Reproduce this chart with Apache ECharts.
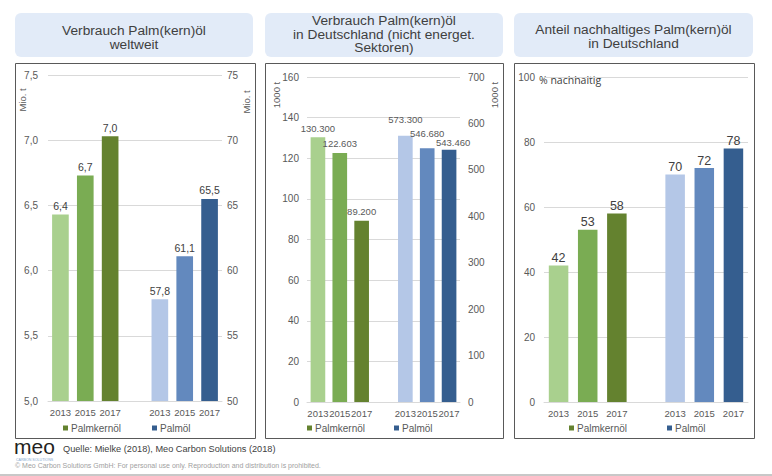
<!DOCTYPE html>
<html>
<head>
<meta charset="utf-8">
<script src="https://cdn.jsdelivr.net/npm/echarts@6/dist/echarts.min.js"></script>
<style>
html,body{margin:0;padding:0;background:#fff;}
#c{width:772px;height:476px;}
</style>
</head>
<body>
<div id="c"></div>
<script>
// ---- data ----
const categories = ['2013', '2015', '2017', '', '2013', '2015', '2017'];
const seriesNames = ['Palmkernöl', 'Palmöl'];
const worldKernel = [6.43, 6.73, 7.03];      // Mio. t
const worldPalm = [57.8, 61.1, 65.5];        // Mio. t
const deKernel = [130.3, 122.603, 89.2];     // 1000 t
const dePalm = [573.3, 546.68, 543.46];      // 1000 t
const shareKernel = [42, 53, 58];            // % nachhaltig
const sharePalm = [70, 72, 78];              // % nachhaltig
const panelTitles = [
  'Verbrauch Palm(kern)öl\nweltweit',
  'Verbrauch Palm(kern)öl\nin Deutschland (nicht energet.\nSektoren)',
  'Anteil nachhaltiges Palm(kern)öl\nin Deutschland'
];
const unitWorld = 'Mio. t';
const unitDe = '1000 t';
const unitShare = '% nachhaltig';
const sourceText = 'Quelle: Mielke (2018), Meo Carbon Solutions (2018)';
const copyrightText = '© Meo Carbon Solutions GmbH: For personal use only. Reproduction and distribution is prohibited.';

// ---- styling ----
const greens = ['#A9D08E', '#7AAC53', '#64822F'];
const blues = ['#B4C7E7', '#6389BE', '#355E8F'];
const legendGreen = '#64822F';
const legendBlue = '#355E8F';
const FONT = '"Liberation Sans", Arial, sans-serif';
const gridLineColor = '#D9D9D9';
const labelGray = '#595959';
// label placement tweaks for the crowded Palmöl labels in panel 2 (style, not data)
const dePalmLabelStyle = [{distance: 11, dx: 0}, {distance: 10, dx: 0}, {distance: 2, dx: 4}];

const padL = arr => arr.concat(['-', '-', '-', '-']);
const padR = arr => ['-', '-', '-', '-'].concat(arr);
const comma1 = v => Number(v).toFixed(1).replace('.', ',');

function xAxis(gi) {
  return {
    type: 'category', gridIndex: gi, data: categories,
    axisTick: {show: false},
    axisLine: {lineStyle: {color: gridLineColor}},
    axisLabel: {interval: 0, fontSize: 9.5, color: labelGray, fontFamily: FONT, margin: 6}
  };
}
function yAxis(gi, pos, min, max, interval, margin, split, fmt) {
  return {
    type: 'value', gridIndex: gi, position: pos, min: min, max: max, interval: interval,
    axisLine: {show: false}, axisTick: {show: false},
    splitLine: {show: split, lineStyle: {color: gridLineColor}},
    axisLabel: {fontSize: 10, color: labelGray, fontFamily: FONT, margin: margin, formatter: fmt}
  };
}
function bar(name, xi, yi, data, shades, labelFmt, fontSize, color, dist) {
  return {
    type: 'bar', name: name, xAxisIndex: xi, yAxisIndex: yi, data: data,
    barWidth: '67%', barGap: '-100%',
    itemStyle: {color: p => shades[p.dataIndex < 3 ? p.dataIndex : p.dataIndex - 4]},
    label: {show: true, position: 'top', distance: dist,
            formatter: p => labelFmt(p.value),
            fontSize: fontSize, color: color, fontFamily: FONT},
    animation: false
  };
}
function legend(left, gap) {
  return {
    left: left, top: 423, padding: 0, itemWidth: 5, itemHeight: 5, itemGap: gap, icon: 'rect',
    selectedMode: false,
    textStyle: {fontSize: 10, color: labelGray, fontFamily: FONT, padding: [0, 0, 0, -2]},
    data: [{name: seriesNames[0], itemStyle: {color: legendGreen}},
           {name: seriesNames[1], itemStyle: {color: legendBlue}}]
  };
}

// panel 2 Palmöl data items, built from dePalm with the style tweaks
const dePalmItems = padR(dePalm).map((v, i) => {
  if (v === '-') return v;
  const s = dePalmLabelStyle[i - 4];
  return {value: v, label: {distance: s.distance, offset: [s.dx, 0]}};
});

const titleBoxes = [[15, 238, 37.5], [265, 238, 34], [514, 239, 36.5]];
const frames = [[15.5, 240], [265.5, 238], [514.5, 240]];
const graphics = [];
titleBoxes.forEach((b, i) => {
  graphics.push({type: 'rect', shape: {x: b[0], y: 13, width: b[1], height: 44, r: 6},
                 style: {fill: '#E2EBF8'}, silent: true});
  graphics.push({type: 'text', x: b[0] + b[1] / 2, y: b[2],
                 style: {text: panelTitles[i], textAlign: 'center', textVerticalAlign: 'middle',
                         font: '13.7px ' + FONT, lineHeight: 13.8, fill: '#404040'}});
});
frames.forEach(f => {
  graphics.push({type: 'rect', shape: {x: f[0], y: 63.5, width: f[1], height: 375},
                 style: {fill: 'none', stroke: '#595959', lineWidth: 1}, silent: true});
});
[[22, 100, unitWorld], [246, 102, unitWorld], [276, 95, unitDe], [494, 95, unitDe]].forEach(u => {
  graphics.push({type: 'text', x: u[0], y: u[1], rotation: Math.PI / 2,
                 style: {text: u[2], textAlign: 'center', textVerticalAlign: 'middle',
                         font: '9.5px ' + FONT, fill: labelGray}});
});
graphics.push({type: 'text', x: 539, y: 80,
               style: {text: unitShare, textAlign: 'left', textVerticalAlign: 'middle',
                       font: '10.5px "Open Sans", sans-serif', fill: '#404040'}});
// footer
graphics.push({type: 'text', x: 14, y: 446.5,
               style: {text: 'meo', textAlign: 'left', textVerticalAlign: 'middle',
                       font: '21px ' + FONT, fill: '#231F20'}});
graphics.push({type: 'text', x: 16, y: 460,
               style: {text: 'CARBON SOLUTIONS', textAlign: 'left', textVerticalAlign: 'middle',
                       font: '3.6px ' + FONT, fill: '#7FA7D0'}});
graphics.push({type: 'text', x: 63, y: 449,
               style: {text: sourceText, textAlign: 'left', textVerticalAlign: 'middle',
                       font: '9.2px ' + FONT, fill: '#404040'}});
graphics.push({type: 'text', x: 15, y: 465.5,
               style: {text: copyrightText, textAlign: 'left', textVerticalAlign: 'middle',
                       font: '7px ' + FONT, fill: '#A0A0A0'}});
graphics.push({type: 'rect', shape: {x: 0, y: 474, width: 772, height: 2},
               style: {fill: '#C8C8C8'}, silent: true});

const chart = echarts.init(document.getElementById('c'), null, {renderer: 'svg'});
chart.setOption({
  animation: false,
  backgroundColor: '#fff',
  grid: [
    {left: 48, right: 550, top: 75, bottom: 75},
    {left: 307, right: 312, top: 77, bottom: 74},
    {left: 544, right: 24, top: 77, bottom: 74}
  ],
  xAxis: [xAxis(0), xAxis(1), xAxis(2)],
  yAxis: [
    yAxis(0, 'left', 5, 7.5, 0.5, 10, true, comma1),
    yAxis(0, 'right', 50, 75, 5, 5, false, v => String(v)),
    yAxis(1, 'left', 0, 160, 20, 8, true, v => String(v)),
    yAxis(1, 'right', 0, 700, 100, 8, false, v => String(v)),
    yAxis(2, 'left', 0, 100, 20, 9, true, v => String(v))
  ],
  legend: [legend(63, 31), legend(307, 29), legend(569, 40)],
  series: [
    bar(seriesNames[0], 0, 0, padL(worldKernel), greens, comma1, 10.5, '#404040', 3),
    bar(seriesNames[1], 0, 1, padR(worldPalm), blues, comma1, 10.5, '#404040', 3),
    bar(seriesNames[0], 1, 2, padL(deKernel), greens, v => Number(v).toFixed(3), 9.5, labelGray, 4),
    bar(seriesNames[1], 1, 3, dePalmItems, blues, v => Number(v).toFixed(3), 9.5, labelGray, 7),
    bar(seriesNames[0], 2, 4, padL(shareKernel), greens, v => String(v), 12.5, '#404040', 1),
    bar(seriesNames[1], 2, 4, padR(sharePalm), blues, v => String(v), 12.5, '#404040', 1)
  ],
  graphic: graphics
});
</script>
</body>
</html>
